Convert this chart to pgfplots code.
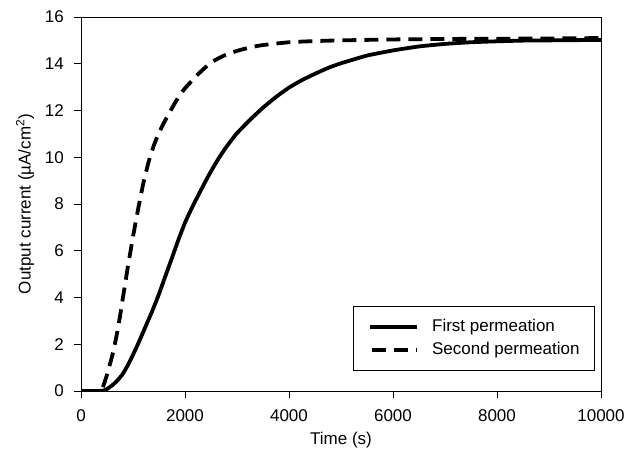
\documentclass[border=0pt]{standalone}
\usepackage{fontspec}
\setmainfont{Liberation Sans}
\usepackage{pgfplots}
\pgfplotsset{compat=1.18}

% Permeation transients: output current vs time
\pgfplotstableread{
t     j
0     0
200   0
350   0
400   0.01
450   0.03
500   0.08
560   0.18
600   0.24
700   0.45
800   0.72
900   1.10
1000  1.55
1100  2.03
1250  2.80
1375  3.45
1500  4.15
1625  4.93
1750  5.70
1875  6.48
2000  7.20
2125  7.80
2250  8.35
2375  8.89
2500  9.40
2625  9.87
2750  10.30
2875  10.68
3000  11.03
3250  11.60
3500  12.12
3750  12.58
4000  12.98
4250  13.30
4500  13.57
4750  13.82
5000  14.02
5500  14.35
6000  14.57
6500  14.74
7000  14.85
7500  14.92
8000  14.96
8500  14.99
9000  15.00
9500  15.01
10000 15.02
}\firstperm

\pgfplotstableread{
t     j
0     0
200   0
350   0
400   0.05
450   0.35
500   0.70
550   1.10
600   1.50
650   2.00
700   2.55
750   3.20
800   3.90
850   4.60
900   5.30
950   5.95
1000  6.60
1100  7.80
1200  8.90
1300  9.80
1400  10.50
1500  11.05
1600  11.50
1700  11.90
1800  12.30
1900  12.65
2000  12.95
2250  13.55
2500  14.05
2750  14.35
3000  14.55
3250  14.70
3500  14.80
4000  14.92
4500  14.97
5000  15.00
6000  15.04
7000  15.06
8000  15.07
9000  15.08
10000 15.10
}\secondperm

\newcommand\chartfont{\fontsize{17bp}{20bp}\selectfont}

\begin{document}
\begin{tikzpicture}
\begin{axis}[
  name=ax,
  scale only axis,
  width=520bp, height=374bp,
  xmin=0, xmax=10000, ymin=0, ymax=16,
  xtick={0,2000,...,10000},
  ytick={0,2,...,16},
  scaled ticks=false,
  /pgf/number format/set thousands separator={},
  /pgf/number format/assume math mode=true,
  tick align=outside,
  major tick length=7bp,
  xtick pos=bottom, ytick pos=left,
  axis line style={line width=0.9bp},
  every tick/.style={line width=0.9bp, black},
  tick label style={font=\chartfont},
  xticklabel style={inner sep=0pt, anchor=north, yshift=-11bp},
  yticklabel style={inner sep=0pt, anchor=east, xshift=-10bp},
  xlabel={Time (s)},
  ylabel={Output current (µA/cm\textsuperscript{2})},
  every axis x label/.style={at={([yshift=-49bp]axis description cs:0.5,0)}, anchor=center, font=\chartfont},
  every axis y label/.style={at={([xshift=-56bp]axis description cs:0,0.5)}, anchor=center, rotate=90, font=\chartfont},
  legend cell align=left,
  legend image code/.code={\draw[#1] (0bp,0bp) -- (47bp,0bp);},
  legend style={
    at={(1,0)}, anchor=south east, xshift=-6bp, yshift=20bp,
    draw=black, line width=0.9bp,
    inner xsep=15bp, inner ysep=12.5bp,
    row sep=7bp,
    nodes={inner sep=0pt, text height=12bp, text depth=4bp},
    /tikz/every odd column/.style={column sep=13bp},
    font=\chartfont,
  },
]
\addplot[black, line width=3.8bp, line join=round, smooth, tension=0.3] table[x=t, y=j] {\firstperm};
\addlegendentry{First permeation}
\addplot[black, line width=3.8bp, line join=round, smooth, tension=0.3, dash pattern=on 14bp off 8bp, dash phase=20bp] table[x=t, y=j] {\secondperm};
\addlegendentry{Second permeation}
\end{axis}
\pgfresetboundingbox
\path[use as bounding box] ([xshift=-81bp,yshift=-68bp]ax.south west) rectangle ([xshift=39bp,yshift=17bp]ax.north east);
\end{tikzpicture}
\end{document}
